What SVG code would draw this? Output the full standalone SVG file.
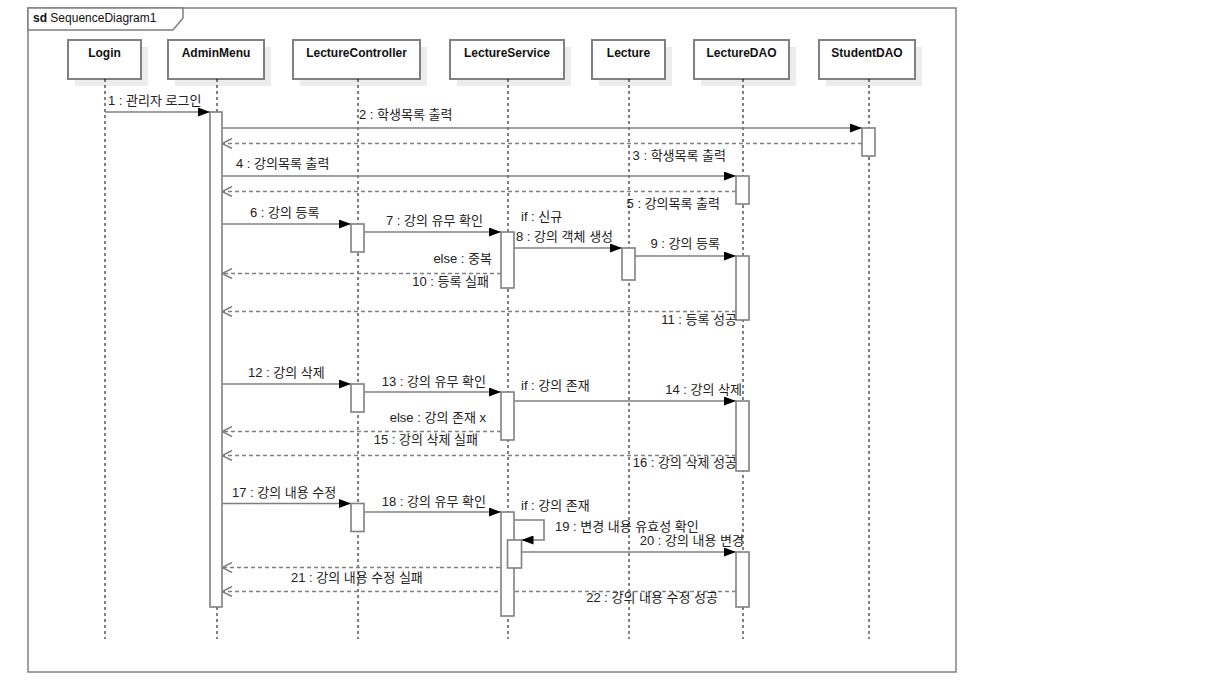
<svg xmlns="http://www.w3.org/2000/svg" width="1232" height="699" viewBox="0 0 1232 699">
  <defs>
    <marker id="filled" viewBox="0 0 12 9" refX="12" refY="4.5" markerWidth="12" markerHeight="9" orient="auto" markerUnits="userSpaceOnUse">
      <path d="M0,0 L12,4.5 L0,9 Z" fill="#000"/>
    </marker>
    <marker id="open" viewBox="0 0 12 12" refX="11" refY="6" markerWidth="12" markerHeight="12" orient="auto" markerUnits="userSpaceOnUse">
      <path d="M1,1 L11,6 L1,11" fill="none" stroke="#808080" stroke-width="1.5"/>
    </marker>
    <style>
      .frame { fill: none; stroke: #808080; stroke-width: 1.5; }
      .tab { fill: #fff; stroke: #808080; stroke-width: 1.5; }
      .head { fill: #fff; stroke: #808080; stroke-width: 2; }
      .shadow { fill: #ececec; }
      .hname { font-family: "Liberation Sans", Arial, sans-serif; font-size: 12px; font-weight: bold; fill: #111; text-anchor: middle; }
      .life { stroke: #000; stroke-width: 1; stroke-dasharray: 3 3; fill: none; }
      .act { fill: #fff; stroke: #808080; stroke-width: 1.6; }
      .msg { stroke: #808080; stroke-width: 1.6; fill: none; marker-end: url(#filled); }
      .ret { stroke: #808080; stroke-width: 1.5; stroke-dasharray: 4 3; fill: none; marker-end: url(#open); }
      .lbl { font-family: "Liberation Sans", "Noto Sans CJK KR", sans-serif; font-size: 13px; fill: #222; }
      .r { text-anchor: end; }
      .title { font-family: "Liberation Sans", Arial, sans-serif; font-size: 12px; fill: #111; }
    </style>
  </defs>

  <rect width="1232" height="699" fill="#fff"/>

  <!-- interaction frame -->
  <g id="frame">
    <rect class="frame" x="28" y="8" width="928" height="664"/>
    <path class="tab" d="M28,8 H183 V18 L173,30 H28 Z"/>
    <text class="title" x="33" y="22"><tspan font-weight="bold">sd</tspan> SequenceDiagram1</text>
  </g>

  <!-- lifelines -->
  <g id="Login">
    <rect class="shadow" x="75" y="47" width="73" height="39"/>
    <rect class="head" x="68" y="40" width="73" height="39"/>
    <text class="hname" x="104.5" y="57">Login</text>
    <line class="life" x1="105" y1="79" x2="105" y2="639"/>
  </g>
  <g id="AdminMenu">
    <rect class="shadow" x="175" y="47" width="96" height="39"/>
    <rect class="head" x="168" y="40" width="96" height="39"/>
    <text class="hname" x="216" y="57">AdminMenu</text>
    <line class="life" x1="217" y1="79" x2="217" y2="639"/>
  </g>
  <g id="LectureController">
    <rect class="shadow" x="300" y="47" width="127" height="39"/>
    <rect class="head" x="293" y="40" width="127" height="39"/>
    <text class="hname" x="356.5" y="57">LectureController</text>
    <line class="life" x1="358" y1="79" x2="358" y2="639"/>
  </g>
  <g id="LectureService">
    <rect class="shadow" x="457" y="47" width="114" height="39"/>
    <rect class="head" x="450" y="40" width="114" height="39"/>
    <text class="hname" x="507" y="57">LectureService</text>
    <line class="life" x1="508" y1="79" x2="508" y2="639"/>
  </g>
  <g id="Lecture">
    <rect class="shadow" x="599" y="47" width="73" height="39"/>
    <rect class="head" x="592" y="40" width="73" height="39"/>
    <text class="hname" x="628.5" y="57">Lecture</text>
    <line class="life" x1="629" y1="79" x2="629" y2="639"/>
  </g>
  <g id="LectureDAO">
    <rect class="shadow" x="701" y="47" width="95" height="39"/>
    <rect class="head" x="694" y="40" width="95" height="39"/>
    <text class="hname" x="741.5" y="57">LectureDAO</text>
    <line class="life" x1="743" y1="79" x2="743" y2="639"/>
  </g>
  <g id="StudentDAO">
    <rect class="shadow" x="826" y="47" width="96" height="39"/>
    <rect class="head" x="819" y="40" width="96" height="39"/>
    <text class="hname" x="867" y="57">StudentDAO</text>
    <line class="life" x1="869" y1="79" x2="869" y2="639"/>
  </g>

  <!-- messages -->
  <g id="connectors">
    <line class="msg" x1="105" y1="112" x2="210" y2="112"/>
    <line class="msg" x1="222" y1="128" x2="862" y2="128"/>
    <line class="ret" x1="862" y1="143.5" x2="222" y2="143.5"/>
    <line class="msg" x1="222" y1="176" x2="736" y2="176"/>
    <line class="ret" x1="736" y1="191.5" x2="222" y2="191.5"/>
    <line class="msg" x1="222" y1="224" x2="351" y2="224"/>
    <line class="msg" x1="364" y1="232" x2="501" y2="232"/>
    <line class="msg" x1="514" y1="248" x2="622" y2="248"/>
    <line class="msg" x1="635" y1="256" x2="736" y2="256"/>
    <line class="ret" x1="501" y1="273.5" x2="222" y2="273.5"/>
    <line class="ret" x1="736" y1="311.5" x2="222" y2="311.5"/>
    <line class="msg" x1="222" y1="384" x2="351" y2="384"/>
    <line class="msg" x1="364" y1="392" x2="501" y2="392"/>
    <line class="msg" x1="514" y1="401" x2="736" y2="401"/>
    <line class="ret" x1="501" y1="431.5" x2="222" y2="431.5"/>
    <line class="ret" x1="736" y1="455.5" x2="222" y2="455.5"/>
    <line class="msg" x1="222" y1="503.5" x2="351" y2="503.5"/>
    <line class="msg" x1="364" y1="512" x2="501" y2="512"/>
    <path class="msg" d="M514,520 H544 V540 H521.5"/>
    <line class="msg" x1="521.5" y1="552" x2="736" y2="552"/>
    <line class="ret" x1="507" y1="567.5" x2="222" y2="567.5"/>
    <line class="ret" x1="736" y1="591.5" x2="222" y2="591.5"/>
  </g>

  <!-- activations -->
  <g id="activations">
    <rect class="act" x="210" y="112" width="12" height="495"/>
    <rect class="act" x="862" y="128" width="13" height="28"/>
    <rect class="act" x="736" y="176" width="13" height="28"/>
    <rect class="act" x="351" y="224" width="13" height="28"/>
    <rect class="act" x="501" y="232" width="13" height="56"/>
    <rect class="act" x="622" y="248" width="13" height="32"/>
    <rect class="act" x="736" y="256" width="13" height="64"/>
    <rect class="act" x="351" y="384" width="13" height="28"/>
    <rect class="act" x="501" y="392" width="13" height="48"/>
    <rect class="act" x="736" y="401" width="13" height="70"/>
    <rect class="act" x="351" y="503.5" width="13" height="28"/>
    <rect class="act" x="501" y="512" width="13" height="104"/>
    <rect class="act" x="507.5" y="540" width="14" height="28"/>
    <rect class="act" x="736" y="552" width="13" height="55"/>
  </g>

  <!-- message labels -->
  <g id="labels" class="lbl">
    <text x="108" y="105">1 : 관리자 로그인</text>
    <text x="359" y="119">2 : 학생목록 출력</text>
    <text class="r" x="726" y="160">3 : 학생목록 출력</text>
    <text x="236" y="168">4 : 강의목록 출력</text>
    <text class="r" x="720" y="208">5 : 강의목록 출력</text>
    <text x="250" y="217">6 : 강의 등록</text>
    <text class="r" x="483" y="225">7 : 강의 유무 확인</text>
    <text x="521" y="221">if : 신규</text>
    <text x="516" y="241">8 : 강의 객체 생성</text>
    <text class="r" x="720" y="248">9 : 강의 등록</text>
    <text class="r" x="492" y="263">else : 중복</text>
    <text class="r" x="489" y="286">10 : 등록 실패</text>
    <text class="r" x="737" y="324">11 : 등록 성공</text>
    <text x="248" y="377">12 : 강의 삭제</text>
    <text class="r" x="486" y="386">13 : 강의 유무 확인</text>
    <text x="521" y="390">if : 강의 존재</text>
    <text class="r" x="742" y="394">14 : 강의 삭제</text>
    <text class="r" x="486" y="422">else : 강의 존재 x</text>
    <text class="r" x="478" y="444">15 : 강의 삭제 실패</text>
    <text class="r" x="737" y="467">16 : 강의 삭제 성공</text>
    <text x="232" y="497">17 : 강의 내용 수정</text>
    <text class="r" x="486" y="506">18 : 강의 유무 확인</text>
    <text x="521" y="510">if : 강의 존재</text>
    <text x="555" y="531">19 : 변경 내용 유효성 확인</text>
    <text class="r" x="744" y="545">20 : 강의 내용 변경</text>
    <text x="291" y="582">21 : 강의 내용 수정 실패</text>
    <text class="r" x="718" y="602">22 : 강의 내용 수정 성공</text>
  </g>
</svg>
